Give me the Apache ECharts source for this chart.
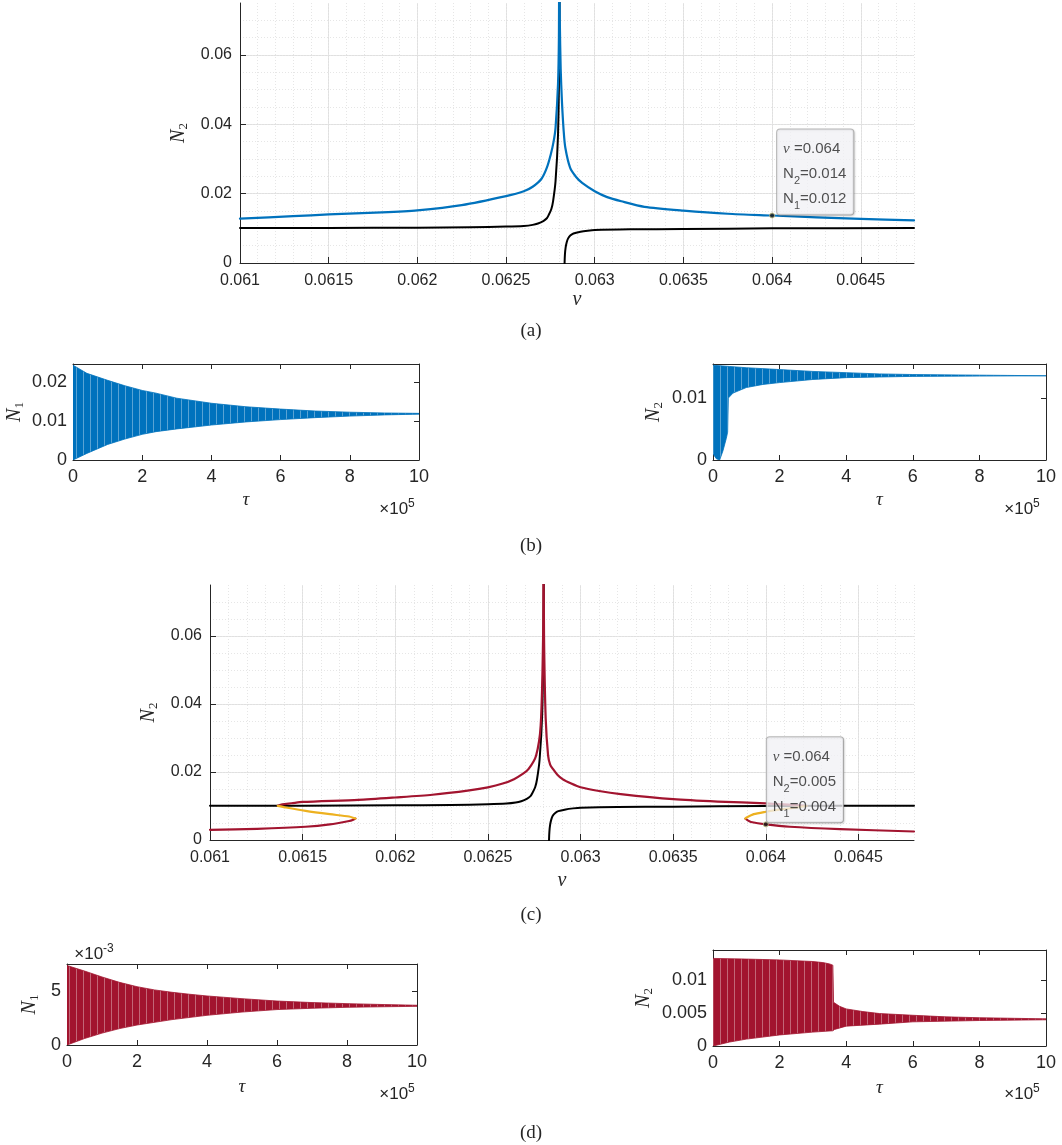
<!DOCTYPE html>
<html><head><meta charset="utf-8">
<script src="https://cdn.jsdelivr.net/npm/echarts@6/dist/echarts.min.js"></script>
<style>html,body{margin:0;padding:0;background:#fff}#c{width:1062px;height:1145px}</style>
</head><body><div id="c"></div>
<script>
// ================= DATA =================
// Panel (a) – blue response curve N2(nu)
const blueNu = [0.061, 0.0613, 0.0615, 0.0618, 0.062, 0.06225, 0.0625, 0.0626, 0.06265, 0.0627, 0.06273, 0.062752, 0.062768, 0.062779, 0.062793, 0.062798, 0.0628,
                0.062803, 0.062808, 0.062815, 0.062825, 0.062834, 0.062861, 0.062895, 0.062929, 0.063, 0.06307, 0.06315, 0.06328, 0.0635, 0.06375, 0.064, 0.0645, 0.0648];
const blueN2 = [0.0128, 0.0135, 0.0140, 0.0146, 0.0152, 0.0167, 0.0193, 0.0207, 0.0220, 0.0243, 0.0275, 0.0313, 0.0350, 0.0390, 0.0516, 0.0650, 0.0900,
                0.0700, 0.0560, 0.0467, 0.0380, 0.0333, 0.0275, 0.0248, 0.0231, 0.0207, 0.0190, 0.0178, 0.0162, 0.0151, 0.0142, 0.0137, 0.0127, 0.0123];
// Black curve (same in (a) and (c)), left and right branches
const blackLeftNu = [0.061, 0.0615, 0.062, 0.0623, 0.0625, 0.0626, 0.06265, 0.06268, 0.06271, 0.06273, 0.06274, 0.062755, 0.062765, 0.062779, 0.062793, 0.0628, 0.062803];
const blackLeftN  = [0.0101, 0.0101, 0.0102, 0.0103, 0.0105, 0.0107, 0.0110, 0.0114, 0.0121, 0.0129, 0.0138, 0.0155, 0.0178, 0.0236, 0.0370, 0.0600, 0.0900];
const blackRightNu = [0.062829, 0.06283, 0.062832, 0.062836, 0.062842, 0.06285, 0.062862, 0.06288, 0.06292, 0.06296, 0.063, 0.0632, 0.0635, 0.064, 0.0648];
const blackRightN  = [-0.005, 0.0000, 0.0025, 0.0045, 0.0060, 0.0071, 0.0079, 0.0085, 0.0090, 0.0093, 0.0095, 0.0097, 0.0098, 0.0100, 0.0101];
// Panel (c) – stable (red) and unstable (yellow) branches
const redUpperNu = [0.061366, 0.06139, 0.06144, 0.0615, 0.0618, 0.062, 0.0622, 0.0624, 0.0625, 0.06258, 0.062641, 0.06269, 0.06272, 0.06276, 0.062785, 0.062798, 0.0628,
                    0.062803, 0.062812, 0.062825, 0.062836, 0.062851, 0.062875, 0.062903, 0.06295, 0.063, 0.0631, 0.063217, 0.0635, 0.06374, 0.064, 0.0641, 0.06418, 0.06422];
const redUpperN2 = [0.01005, 0.0105, 0.0108, 0.0112, 0.0118, 0.0125, 0.0133, 0.0146, 0.0155, 0.0166, 0.0179, 0.0195, 0.0209, 0.0248, 0.0337, 0.0600, 0.0900,
                    0.0600, 0.0357, 0.0248, 0.0222, 0.0209, 0.0192, 0.0179, 0.0166, 0.0155, 0.0144, 0.0135, 0.0120, 0.0113, 0.0108, 0.0105, 0.0102, 0.0100];
const yellowLeftNu = [0.061366, 0.06141, 0.061516, 0.061647, 0.061751, 0.061785];
const yellowLeftN2 = [0.01005, 0.00956, 0.00857, 0.00759, 0.0069, 0.0063];
const redLowerLeftNu = [0.061785, 0.06177, 0.061751, 0.061647, 0.061516, 0.061254, 0.061];
const redLowerLeftN2 = [0.0063, 0.0059, 0.0056, 0.0046, 0.0039, 0.0033, 0.0030];
const yellowRightNu = [0.06389, 0.063896, 0.063935, 0.064, 0.06408, 0.06416, 0.06422];
const yellowRightN2 = [0.0063, 0.0066, 0.0076, 0.0083, 0.0090, 0.0095, 0.0100];
const redLowerRightNu = [0.06389, 0.063905, 0.06392, 0.064, 0.06413, 0.0644, 0.0648];
const redLowerRightN2 = [0.0063, 0.0057, 0.0053, 0.0046, 0.0039, 0.0032, 0.0025];
// Data tips
const tipA = [0.064, 0.0137]; const tipAText = ['0.064', '0.014', '0.012'];
const tipC = [0.064, 0.0046]; const tipCText = ['0.064', '0.005', '0.004'];
// Panel (b) left – N1(tau) oscillation envelope (tau in 1e5)
const bLTauU = [0, 0.4, 1, 1.5, 2, 2.4, 3, 4, 5, 6, 7, 8, 9, 10];
const bLUpper = [0.0244, 0.0223, 0.0205, 0.0191, 0.0179, 0.0172, 0.0159, 0.0146, 0.0137, 0.0131, 0.0126, 0.0123, 0.0121, 0.0120];
const bLTauL = [0, 0.4, 1, 1.5, 2, 2.4, 3, 4, 5, 6, 7, 8, 9, 10];
const bLLower = [0.0000, 0.0017, 0.0040, 0.0054, 0.0066, 0.0073, 0.0080, 0.0090, 0.0098, 0.0104, 0.0109, 0.0113, 0.0116, 0.0118];
// Panel (b) right – N2(tau)
const bRTauU = [0, 0.5, 1, 2, 3, 4, 5, 6, 8, 10];
const bRUpper = [0.0153, 0.0151, 0.0149, 0.0146, 0.0143, 0.0141, 0.0139, 0.0138, 0.0137, 0.0136];
const bRTauL = [0, 0.1, 0.2, 0.3, 0.4, 0.44, 0.46, 0.6, 1, 1.5, 2, 3, 4, 5, 6, 8, 10];
const bRLower = [0.0010, 0.0002, 0.0000, 0.0015, 0.0035, 0.0045, 0.0100, 0.0108, 0.0117, 0.0122, 0.0125, 0.0130, 0.0133, 0.0134, 0.0135, 0.01355, 0.0136];
// Panel (d) left – N1(tau), values in 1e-3
const dLTauU = [0, 0.5, 1, 1.5, 2, 2.5, 3, 3.5, 4, 5, 6, 7, 8, 9, 10];
const dLUpper = [7.36, 6.85, 6.30, 5.80, 5.40, 5.10, 4.88, 4.70, 4.54, 4.29, 4.07, 3.93, 3.83, 3.75, 3.68];
const dLTauL = [0, 0.5, 1, 1.5, 2, 3, 4, 5, 6, 7, 8, 9, 10];
const dLLower = [0.0, 0.60, 1.10, 1.52, 1.85, 2.35, 2.75, 3.05, 3.28, 3.40, 3.49, 3.54, 3.58];
// Panel (d) right – N2(tau)
const dRTauU = [0, 1, 2, 3, 3.3, 3.5, 3.6, 3.62, 3.8, 4, 4.5, 5, 6, 7, 8, 10];
const dRUpper = [0.01323, 0.01313, 0.0130, 0.01276, 0.0126, 0.0124, 0.0122, 0.0066, 0.0060, 0.0056, 0.0052, 0.0049, 0.00464, 0.0044, 0.00427, 0.0041];
const dRTauL = [0, 0.5, 1, 2, 3, 3.6, 3.65, 4, 5, 6, 8, 10];
const dRLower = [0.0, 0.0006, 0.00104, 0.00167, 0.0021, 0.0023, 0.0025, 0.0030, 0.0033, 0.00365, 0.00385, 0.00396];
// Axis ranges / ticks
const NU_MIN = 0.061, NU_MAX = 0.0648, NU_STEP = 0.0005, NU_MINOR = 0.0001;
const N_MAX = 0.075, N_STEP = 0.02, N_MINOR = 0.005;
const TAU_MIN = 0, TAU_MAX = 10, TAU_STEP = 2;

// ================= STYLE =================
const SANS = '"Liberation Sans", Arial, Helvetica, sans-serif';
const SERIF = '"Liberation Serif", "Times New Roman", serif';
const AX = '#262626';
const BLUE = '#0072BD', RED = '#A2142F', YELLOW = '#EDB120';
const pairs = (xs, ys) => xs.map((x, i) => [x, ys[i]]);

// thin light streaks, imitating the dense oscillation rendering
function streakFill(color) {
  const c = document.createElement('canvas');
  c.width = 7; c.height = 4;
  const ctx = c.getContext('2d');
  ctx.fillStyle = color; ctx.fillRect(0, 0, 7, 4);
  ctx.fillStyle = 'rgba(255,255,255,0.35)'; ctx.fillRect(6, 0, 1, 4);
  return { image: c, repeat: 'repeat' };
}

const grids = [], xAxes = [], yAxes = [], series = [];

function nameRich(size) {
  return {
    color: AX,
    rich: {
      i: { fontFamily: SERIF, fontStyle: 'italic', fontSize: size, color: AX, lineHeight: size + 2 },
      s: { fontFamily: SERIF, fontSize: Math.round(size * 0.65), color: AX, verticalAlign: 'bottom', lineHeight: Math.round(size * 0.6) }
    }
  };
}
const fmtNum = v => String(+v.toFixed(6));

function mainPanel(rect, yNameGap, xNameGap) {
  const g = grids.length;
  grids.push(Object.assign({ containLabel: false }, rect));
  const xi = xAxes.length, yi = yAxes.length;
  xAxes.push({
    gridIndex: g, type: 'value', min: NU_MIN, max: NU_MAX, interval: NU_STEP, position: 'bottom',
    name: 'ν', nameLocation: 'middle', nameGap: xNameGap,
    nameTextStyle: { fontFamily: SERIF, fontStyle: 'italic', fontSize: 20, color: AX },
    axisLine: { show: true, onZero: false, lineStyle: { color: AX, width: 1 } },
    axisTick: { show: true, inside: true, length: 6, lineStyle: { color: AX } },
    axisLabel: { color: AX, fontFamily: SANS, fontSize: 16, margin: 10, formatter: fmtNum, showMaxLabel: false },
    splitLine: { show: true, showMaxLine: false, lineStyle: { color: '#e0e0e0', width: 1 } }
  });
  xAxes.push({
    gridIndex: g, type: 'value', min: NU_MIN, max: NU_MAX, interval: NU_MINOR, position: 'bottom',
    axisLine: { show: false }, axisTick: { show: false }, axisLabel: { show: false },
    splitLine: { show: true, lineStyle: { color: '#e6e6e6', width: 1, type: [1, 2] } }
  });
  yAxes.push({
    gridIndex: g, type: 'value', min: 0, max: N_MAX, interval: N_STEP, position: 'left',
    name: '{i|N}{s|2}', nameLocation: 'middle', nameGap: yNameGap, nameTextStyle: nameRich(20),
    axisLine: { show: true, onZero: false, lineStyle: { color: AX, width: 1 } },
    axisTick: { show: true, inside: true, length: 6, lineStyle: { color: AX } },
    axisLabel: { color: AX, fontFamily: SANS, fontSize: 16, margin: 8, formatter: fmtNum, showMaxLabel: false },
    splitLine: { show: true, showMaxLine: false, lineStyle: { color: '#e0e0e0', width: 1 } }
  });
  yAxes.push({
    gridIndex: g, type: 'value', min: 0, max: N_MAX, interval: N_MINOR, position: 'left',
    axisLine: { show: false }, axisTick: { show: false }, axisLabel: { show: false },
    splitLine: { show: true, showMaxLine: false, lineStyle: { color: '#e6e6e6', width: 1, type: [1, 2] } }
  });
  return { xi, yi };
}

function smallPanel(rect, ymax, yint, sub, yNameGap, xNameGap) {
  const g = grids.length;
  grids.push(Object.assign({ containLabel: false }, rect));
  const xi = xAxes.length, yi = yAxes.length;
  const common = {
    gridIndex: g, type: 'value',
    axisLine: { show: true, onZero: false, lineStyle: { color: AX, width: 1 } },
    axisTick: { show: true, inside: true, length: 5, lineStyle: { color: AX } },
    splitLine: { show: false }
  };
  xAxes.push(Object.assign({}, common, {
    min: TAU_MIN, max: TAU_MAX, interval: TAU_STEP, position: 'bottom',
    name: 'τ', nameLocation: 'middle', nameGap: xNameGap,
    nameTextStyle: { fontFamily: SERIF, fontStyle: 'italic', fontSize: 19, color: AX },
    axisLabel: { color: AX, fontFamily: SANS, fontSize: 18, margin: 8, formatter: fmtNum }
  }));
  xAxes.push(Object.assign({}, common, {
    min: TAU_MIN, max: TAU_MAX, interval: TAU_STEP, position: 'top', axisLabel: { show: false }
  }));
  yAxes.push(Object.assign({}, common, {
    min: 0, max: ymax, interval: yint, position: 'left',
    name: '{i|N}{s|' + sub + '}', nameLocation: 'middle', nameGap: yNameGap, nameTextStyle: nameRich(20),
    axisLabel: { color: AX, fontFamily: SANS, fontSize: 18, margin: 6, formatter: fmtNum, showMaxLabel: false }
  }));
  yAxes.push(Object.assign({}, common, {
    min: 0, max: ymax, interval: yint, position: 'right', axisLabel: { show: false }
  }));
  return { xi, yi };
}

function line(ax, xs, ys, color, width, z) {
  series.push({
    type: 'line', xAxisIndex: ax.xi, yAxisIndex: ax.yi, data: pairs(xs, ys),
    showSymbol: false, symbol: 'none', clip: true, z: z || 3, silent: true, smooth: 0.25,
    lineStyle: { color, width: width || 2, join: 'round', cap: 'round' }
  });
}

function band(ax, tu, up, tl, lo, color) {
  const fill = streakFill(color);
  series.push({
    type: 'custom', xAxisIndex: ax.xi, yAxisIndex: ax.yi, data: [[0, 0]], clip: true, silent: true,
    renderItem: (params, api) => {
      const pts = [];
      for (let i = 0; i < tu.length; i++) pts.push(api.coord([tu[i], up[i]]));
      for (let i = tl.length - 1; i >= 0; i--) pts.push(api.coord([tl[i], lo[i]]));
      return { type: 'polygon', shape: { points: pts }, style: { fill: fill, stroke: color, lineWidth: 0.8 } };
    }
  });
}

function dataTip(ax, pt, txt, pos) {
  series.push({
    type: 'scatter', xAxisIndex: ax.xi, yAxisIndex: ax.yi, data: [pt], z: 10, silent: true,
    symbolSize: 5, itemStyle: { color: '#151515', borderColor: '#c9c58a', borderWidth: 1 },
    label: {
      show: true, position: pos, align: 'left', verticalAlign: 'bottom',
      formatter: '{nu|ν} =' + txt[0] + '\nN{s|2}=' + txt[1] + '\nN{s|1}=' + txt[2],
      backgroundColor: 'rgba(250,250,253,0.93)', borderColor: '#a8a8a8', borderWidth: 1, borderRadius: 3,
      padding: [7, 7, 3, 6], color: AX, fontFamily: SANS, fontSize: 15, lineHeight: 25,
      shadowColor: 'rgba(0,0,0,0.15)', shadowBlur: 2, shadowOffsetX: 1, shadowOffsetY: 1,
      rich: {
        nu: { fontFamily: SERIF, fontStyle: 'italic', fontSize: 15, color: AX, lineHeight: 25 },
        s: { fontFamily: SANS, fontSize: 11, color: AX, verticalAlign: 'bottom', lineHeight: 12 }
      }
    }
  });
}

// ---- Panel (a)
const A = mainPanel({ left: 240, top: 3, width: 674, height: 260 }, 45, 25);
line(A, blackLeftNu, blackLeftN, '#000', 2, 3);
line(A, blackRightNu, blackRightN, '#000', 2, 3);
line(A, blueNu, blueN2, BLUE, 2.2, 4);
dataTip(A, tipA, tipAText, [8, 2]);

// ---- Panel (b)
const BL = smallPanel({ left: 73, top: 364, width: 346, height: 96 }, 0.0247, 0.01, '1', 47, 30);
band(BL, bLTauU, bLUpper, bLTauL, bLLower, BLUE);
const BR = smallPanel({ left: 713, top: 364, width: 333, height: 96 }, 0.0155, 0.01, '2', 48, 30);
band(BR, bRTauU, bRUpper, bRTauL, bRLower, BLUE);

// ---- Panel (c)
const C = mainPanel({ left: 210, top: 585, width: 704, height: 255 }, 45, 31);
line(C, blackLeftNu, blackLeftN, '#000', 2, 3);
line(C, blackRightNu, blackRightN, '#000', 2, 3);
line(C, redUpperNu, redUpperN2, RED, 2.2, 4);
line(C, redLowerLeftNu, redLowerLeftN2, RED, 2.2, 4);
line(C, redLowerRightNu, redLowerRightN2, RED, 2.2, 4);
line(C, yellowLeftNu, yellowLeftN2, YELLOW, 2.2, 4);
line(C, yellowRightNu, yellowRightN2, YELLOW, 2.2, 4);
dataTip(C, tipC, tipCText, [4, 1]);

// ---- Panel (d)
const DL = smallPanel({ left: 67, top: 964, width: 350, height: 81 }, 7.5, 5, '1', 26, 32);
band(DL, dLTauU, dLUpper, dLTauL, dLLower, RED);
const DR = smallPanel({ left: 713, top: 950, width: 333, height: 96 }, 0.0145, 0.005, '2', 58, 32);
band(DR, dRTauU, dRUpper, dRTauL, dRLower, RED);

// ---- Texts (captions, exponents)
function txt(x, y, text, font, rich) {
  return { type: 'text', x, y, silent: true, z: 20,
    style: { text, font, fill: AX, align: 'center', verticalAlign: 'middle', rich } };
}
const expRich = { b: { fontFamily: SANS, fontSize: 17, fill: AX, lineHeight: 20, verticalAlign: 'bottom' },
                  p: { fontFamily: SANS, fontSize: 12, fill: AX, lineHeight: 12, verticalAlign: 'top' } };
const graphic = [
  txt(531, 331, '(a)', '19px ' + SERIF),
  txt(531, 546, '(b)', '19px ' + SERIF),
  txt(531, 915, '(c)', '19px ' + SERIF),
  txt(531, 1133, '(d)', '19px ' + SERIF),
  txt(397, 508, '{b|×10}{p|5}', '17px ' + SANS, expRich),
  txt(1022, 508, '{b|×10}{p|5}', '17px ' + SANS, expRich),
  txt(397, 1093, '{b|×10}{p|5}', '17px ' + SANS, expRich),
  txt(1022, 1093, '{b|×10}{p|5}', '17px ' + SANS, expRich),
  txt(94, 953, '{b|×10}{p|-3}', '17px ' + SANS, expRich)
];

const chart = echarts.init(document.getElementById('c'), null, { renderer: 'canvas' });
chart.setOption({
  animation: false, backgroundColor: '#fff',
  grid: grids, xAxis: xAxes, yAxis: yAxes, series, graphic
});
</script></body></html>
